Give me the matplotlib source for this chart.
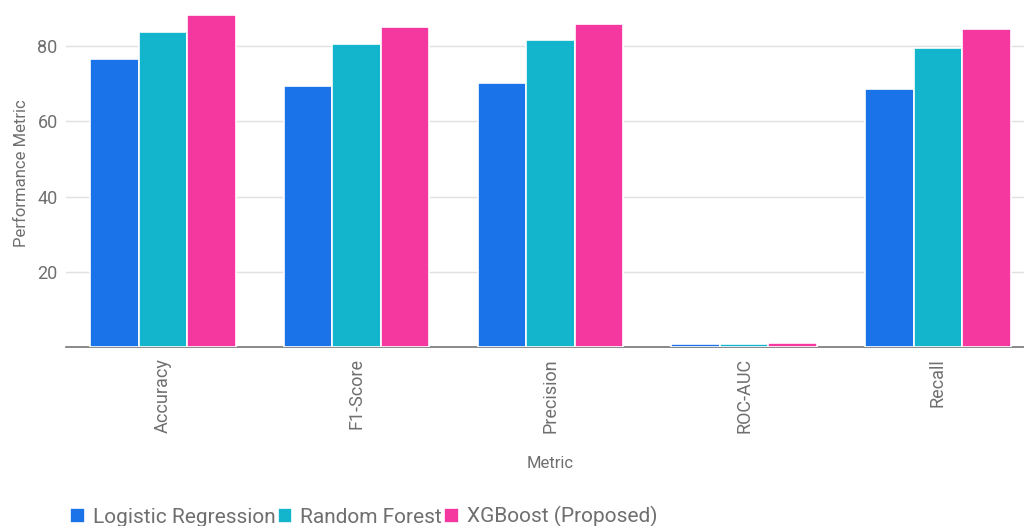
import numpy as np
import matplotlib.pyplot as plt

plt.rcParams['font.family'] = ['Roboto', 'DejaVu Sans']

# data
metrics = ['Accuracy', 'F1-Score', 'Precision', 'ROC-AUC', 'Recall']
models = ['Logistic Regression', 'Random Forest', 'XGBoost (Proposed)']
logreg = [76.5, 69.4, 70.2, 0.95, 68.6]
rforest = [83.7, 80.6, 81.6, 0.97, 79.5]
xgboost = [88.3, 85.2, 85.9, 0.99, 84.6]
colors = ['#1a73e8', '#12b5cb', '#f538a0']
grey = '#6f6f6f'

fig = plt.figure(figsize=(10.24, 5.26), dpi=100)
ax = fig.add_axes([0.0645, 0.34, 0.946, 0.66])

x = np.arange(len(metrics))
w = 0.25
for i, (vals, name) in enumerate(zip([logreg, rforest, xgboost], models)):
    ax.bar(x + (i - 1) * w, vals, width=w, color=colors[i], label=name,
           edgecolor='white', linewidth=1.2, zorder=3)

ax.set_xlim(-0.5, len(metrics) - 0.5)
ax.set_ylim(0, 92.3)
ax.set_yticks([20, 40, 60, 80])
ax.grid(axis='y', color='#e0e0e0', linewidth=1, zorder=0)
ax.set_xticks(x)
ax.set_xticklabels(metrics, rotation=90)
ax.tick_params(axis='both', length=0, colors=grey, labelsize=13)
ax.tick_params(axis='x', pad=8)
ax.tick_params(axis='y', pad=6)
for s in ['top', 'right', 'left']:
    ax.spines[s].set_visible(False)
ax.spines['bottom'].set_color('#757575')
ax.spines['bottom'].set_linewidth(1.2)

ax.set_ylabel('Performance Metric', color=grey, fontsize=12, labelpad=6)
ax.set_xlabel('Metric', color=grey, fontsize=12, labelpad=16)

fig.legend(loc='lower left', bbox_to_anchor=(0.05, -0.038), ncol=3, frameon=False,
           fontsize=15, handlelength=0.7, handleheight=0.7, handletextpad=0.4,
           columnspacing=0.1, labelcolor=grey)

fig.savefig('out.png', dpi=100)
